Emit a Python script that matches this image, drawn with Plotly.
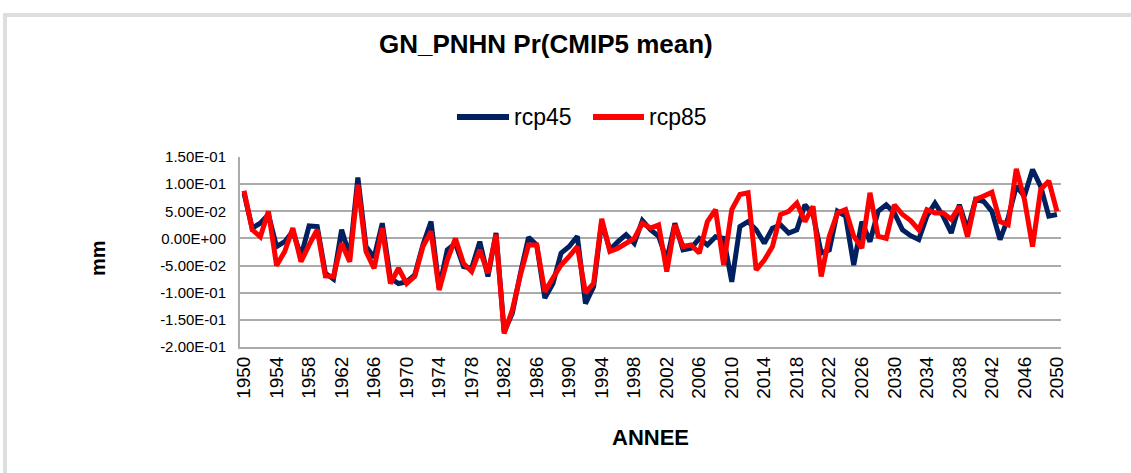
import plotly.graph_objects as go

# Annual precipitation anomaly (mm), CMIP5 ensemble mean
years = list(range(1950, 2051))

rcp45 = [
    0.083, 0.019, 0.028, 0.044, -0.015, -0.006, 0.013, -0.033, 0.023, 0.022,
    -0.064, -0.075, 0.016, -0.033, 0.112, -0.015, -0.035, 0.028, -0.073, -0.083,
    -0.080, -0.067, -0.012, 0.031, -0.092, -0.021, -0.009, -0.052, -0.055, -0.006,
    -0.070, 0.010, -0.172, -0.138, -0.064, 0.002, -0.012, -0.110, -0.083, -0.027,
    -0.015, 0.004, -0.120, -0.089, 0.031, -0.021, -0.006, 0.007, -0.009, 0.033,
    0.016, 0.004, -0.040, 0.028, -0.021, -0.018, 0.000, -0.012, 0.003, 0.000,
    -0.080, 0.022, 0.031, 0.016, -0.009, 0.019, 0.025, 0.010, 0.016, 0.062,
    0.044, -0.027, -0.021, 0.050, 0.041, -0.049, 0.031, -0.006, 0.050, 0.062,
    0.047, 0.016, 0.005, -0.002, 0.041, 0.065, 0.041, 0.010, 0.062, 0.016,
    0.072, 0.068, 0.050, -0.002, 0.038, 0.096, 0.078, 0.127, 0.096, 0.041,
    0.044,
]

rcp85 = [
    0.088, 0.016, 0.003, 0.050, -0.050, -0.024, 0.019, -0.043, -0.012, 0.016,
    -0.069, -0.070, -0.009, -0.043, 0.099, -0.024, -0.055, 0.019, -0.083, -0.055,
    -0.083, -0.070, -0.015, 0.013, -0.095, -0.040, 0.000, -0.046, -0.061, -0.021,
    -0.064, 0.007, -0.175, -0.132, -0.067, -0.012, -0.012, -0.098, -0.073, -0.049,
    -0.033, -0.015, -0.100, -0.083, 0.036, -0.024, -0.018, -0.009, 0.000, 0.028,
    0.019, 0.025, -0.061, 0.025, -0.015, -0.012, -0.027, 0.031, 0.053, -0.049,
    0.053, 0.081, 0.084, -0.058, -0.040, -0.015, 0.044, 0.050, 0.065, 0.031,
    0.059, -0.070, 0.004, 0.047, 0.053, 0.004, -0.018, 0.084, 0.004, 0.000,
    0.062, 0.044, 0.033, 0.016, 0.053, 0.047, 0.047, 0.035, 0.059, 0.003,
    0.072, 0.078, 0.085, 0.031, 0.025, 0.128, 0.072, -0.015, 0.090, 0.106,
    0.050,
]

x_ticks = years[::4]
y_ticks = [0.15, 0.10, 0.05, 0.0, -0.05, -0.10, -0.15, -0.20]
y_ticktext = [f"{v:.2E}" for v in y_ticks]

NAVY = "#002060"
RED = "#FF0000"
GRID = "#ababab"
FONT = "Liberation Sans, Arial, sans-serif"

fig = go.Figure()
fig.add_trace(go.Scatter(x=years, y=rcp45, mode="lines", name="rcp45",
                         line=dict(color=NAVY, width=5)))
fig.add_trace(go.Scatter(x=years, y=rcp85, mode="lines", name="rcp85",
                         line=dict(color=RED, width=5)))

# plot area in pixels: x 240..1061, y 157..347
L, R, T, B = 240, 1061, 157, 347
W, H = 1131, 473


def px(xp):
    return (xp - L) / (R - L)


def py(yp):
    return (B - yp) / (B - T)


shapes = [
    # chart frame
    dict(type="rect", xref="paper", yref="paper",
         x0=px(5), x1=px(1200), y0=py(520), y1=py(15),
         line=dict(color="#dedede", width=4), layer="below"),
    # legend samples
    dict(type="line", xref="paper", yref="paper",
         x0=px(457), x1=px(509), y0=py(117), y1=py(117),
         line=dict(color=NAVY, width=6)),
    dict(type="line", xref="paper", yref="paper",
         x0=px(593), x1=px(644), y0=py(117), y1=py(117),
         line=dict(color=RED, width=6)),
]

annotations = [
    dict(text="<b>GN_PNHN Pr(CMIP5 mean)</b>", xref="paper", yref="paper",
         x=px(546), y=py(44), xanchor="center", yanchor="middle",
         showarrow=False, font=dict(family=FONT, size=26, color="black")),
    dict(text="rcp45", xref="paper", yref="paper",
         x=px(512), y=py(117), xanchor="left", yanchor="middle",
         showarrow=False, font=dict(family=FONT, size=23, color="black")),
    dict(text="rcp85", xref="paper", yref="paper",
         x=px(647), y=py(117), xanchor="left", yanchor="middle",
         showarrow=False, font=dict(family=FONT, size=23, color="black")),
    dict(text="<b>mm</b>", xref="paper", yref="paper",
         x=px(98), y=py(258), xanchor="center", yanchor="middle", textangle=-90,
         showarrow=False, font=dict(family=FONT, size=20, color="black")),
    dict(text="<b>ANNEE</b>", xref="paper", yref="paper",
         x=px(650), y=py(437), xanchor="center", yanchor="middle",
         showarrow=False, font=dict(family=FONT, size=22, color="black")),
]

fig.update_layout(
    width=W, height=H,
    margin=dict(l=L, r=W - R, t=T, b=H - B, pad=0),
    paper_bgcolor="white", plot_bgcolor="white",
    showlegend=False,
    shapes=shapes, annotations=annotations,
    xaxis=dict(
        range=[1949.5, 2050.5], tickmode="array", tickvals=x_ticks,
        ticktext=[str(y) for y in x_ticks], tickangle=-90,
        showgrid=False, zeroline=False, showline=True, linecolor=GRID, linewidth=2,
        ticks="", tickfont=dict(family=FONT, size=19, color="black"),
    ),
    yaxis=dict(
        range=[-0.2, 0.15], tickmode="array", tickvals=y_ticks, ticktext=y_ticktext,
        showgrid=True, gridcolor=GRID, gridwidth=1.5, zeroline=False,
        showline=True, linecolor=GRID, linewidth=2, ticks="",
        ticklabelstandoff=9,
        tickfont=dict(family=FONT, size=15, color="black"),
    ),
)

fig.write_html("out.html")
